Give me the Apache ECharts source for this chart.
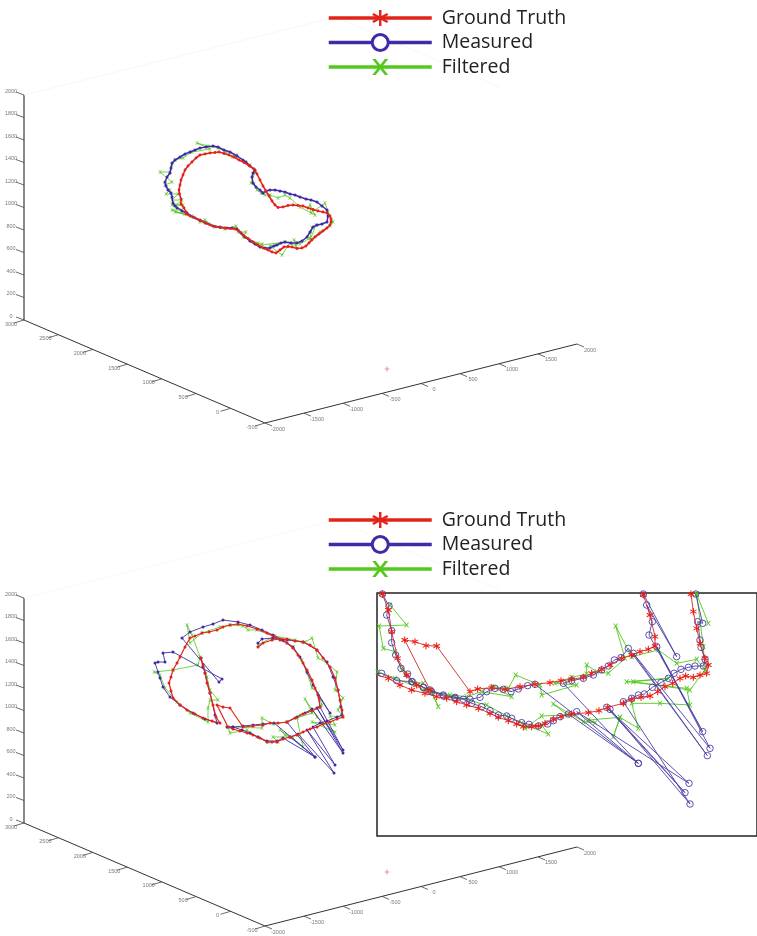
<!DOCTYPE html>
<html>
<head>
<meta charset="utf-8">
<style>html,body{margin:0;padding:0;background:#fff}#c{width:757px;height:936px;filter:blur(0.35px)}</style>
<script src="https://cdn.jsdelivr.net/npm/echarts@6/dist/echarts.min.js"></script>
</head>
<body>
<div id="c"></div>
<script>
// tick values of the three 3-D axes
const heightTicks = [0,200,400,600,800,1000,1200,1400,1600,1800,2000];
const depthTicks = [3000,2500,2000,1500,1000,500,0,-500];
const widthTicks = [-2000,-1500,-1000,-500,0,500,1000,1500,2000];
const legendNames = ['Ground Truth','Measured','Filtered'];
const panelOffsets = [0,503];

// first run, values
const truthTop = [[186,212],[184,208],[181,204],[181,199],[179.5,194],[179,190],[180,185],[181,180],[183,175],[185,170],[188,166],[192,162],[196,158],[200,155],[205,154],[210,153],[215,152.5],[219,152],[224,153.5],[229,155],[234,157],[239,160],[244,162.5],[249,165.5],[254,169],[257,174],[260,180],[263,186],[266,191],[269,196],[272,201],[275,205],[278,207.5],[283,207],[288,205.5],[293,205],[298,205.5],[303,206],[308,208],[313,209.5],[318,211],[323,212],[327,213],[330,216],[331,219],[331,222],[330,225],[327,228],[323,231],[319,234],[315,237],[312,240],[309,243],[306,246],[302,248],[297,248.5],[292,247],[288,246.5],[284,247],[280,250],[276,253],[272,252],[268,250],[263,248],[258,245],[253,242],[248,238.5],[243,235],[239,231],[235,229],[230,228.5],[225,228],[220,227.5],[215,226.5],[210,225],[205,223],[200,220.5],[195,218],[190,216],[186,214]];
const measuredTop = [[263,193],[260,190],[256,187],[253,183],[252,177],[253,173],[255,170],[250,166],[246,162],[243,160],[237,156],[230,152],[224,150],[218,147],[213,146],[206,147],[200,148],[195,150],[190,152],[185,154],[180,157],[175,160],[172,163],[171,168],[170,173],[167,177],[165,182],[166,186],[168,190],[171,193],[172,197],[173,203],[175,206],[177,208],[182,211],[187,213],[193,217],[200,220],[206,223],[213,226],[220,227],[227,228],[232,228],[237,229],[241,233],[245,237],[250,241],[255,244],[260,247],[265,248],[270,248],[274,246],[277,245],[281,243],[285,242],[291,243],[297,243],[302,241],[307,237],[310,232],[313,227],[317,225],[322,224],[327,222],[328,216],[327,210],[322,206],[317,202],[311,200],[306,199],[300,197],[295,195],[290,194],[285,192],[280,191],[275,190],[270,190],[266,191],[263,193]];
const filteredTop = [[261,193],[257,190],[254,184],[251,183],[255,172],[250,165],[245,162],[237,155],[232,157],[226,152],[218,148],[208,146],[197,143],[210,149],[192,152],[183,158],[175,160],[172,165],[170,172],[160,172],[172,182],[165,185],[170,190],[166,194],[178,194],[172,200],[182,200],[176,205],[183,205],[172,205],[182,210],[172,210],[184,214],[175,212],[192,216],[200,222],[205,220],[215,227],[225,229],[236,226],[238,232],[246,232],[243,237],[250,240],[258,243],[262,245],[262,244],[285,242],[270,246],[282,255],[290,243],[296,246],[294,240],[300,244],[310,238],[312,228],[316,225],[310,240],[320,232],[330,226],[333,222],[328,212],[325,203],[311,213],[310,205],[315,215],[300,207],[290,198],[285,195],[278,198],[270,195],[265,195]];
const originPoint = [[387,369]];

// second run, values
const truthBottom = [[258,647],[263,643],[272,640],[280,639],[287,639],[295,641],[303,642],[310,645],[317,650],[323,658],[330,667],[335,678],[338,690],[340,700],[342,710],[343,717],[337,719],[330,722],[323,724],[317,727],[310,729],[303,732],[297,735],[290,737],[283,739],[277,742],[272,742],[267,742],[260,738],[253,735],[247,733],[240,731],[233,729],[228,727],[217,705],[223,707],[230,708],[243,727],[253,726],[263,725],[270,723],[278,723],[287,722],[295,718],[303,714],[312,711],[320,707],[319,698],[315,688],[312,680],[307,670],[303,663],[298,655],[293,648],[287,643],[280,640],[273,636],[267,633],[257,629],[247,626],[238,624],[230,625],[223,627],[217,630],[209,632],[202,633],[195,636],[190,638],[185,647],[180,657],[177,663],[173,670],[171,677],[169,683],[171,691],[173,698],[180,705],[187,710],[195,714],[203,718],[212,721],[220,723],[216,717],[213,705],[210,693],[207,683],[205,673],[203,665],[201,658]];
const measuredBottom = [[258,643],[262,639],[273,638],[287,640],[303,642],[317,650],[327,662],[333,677],[338,690],[341,707],[342,715],[337,717],[327,721],[320,723],[313,727],[335,765],[307,730],[334,773],[298,734],[290,737],[315,757],[283,738],[277,741],[267,741],[258,737],[250,733],[242,730],[233,727],[227,727],[233,727],[243,726],[253,725],[263,724],[274,723],[315,757],[287,722],[297,717],[305,713],[312,709],[343,753],[317,708],[343,750],[320,707],[318,695],[330,713],[313,685],[307,672],[300,657],[293,647],[283,640],[273,635],[262,630],[250,625],[238,622],[223,620],[213,624],[203,627],[190,632],[182,638],[219,682],[222,679],[173,652],[163,653],[165,662],[158,662],[155,663],[158,672],[160,678],[163,687],[170,697],[180,705],[193,713],[205,719],[217,723],[215,715],[210,693],[205,673],[203,667],[201,658]];
const filteredBottom = [[258,645],[275,636],[295,640],[305,642],[312,638],[318,658],[327,663],[337,672],[335,690],[343,698],[338,710],[343,717],[330,716],[335,725],[312,722],[335,732],[317,717],[305,699],[312,713],[297,718],[303,747],[293,738],[285,735],[280,730],[290,737],[273,737],[278,742],[268,742],[257,737],[247,730],[230,733],[228,727],[262,728],[262,718],[273,724],[287,722],[300,715],[322,705],[318,693],[312,688],[307,673],[302,660],[293,647],[287,643],[273,636],[257,630],[248,630],[243,626],[230,625],[220,627],[202,633],[190,643],[187,625],[192,635],[200,657],[198,665],[173,670],[154,672],[160,675],[165,688],[177,702],[190,713],[208,722],[208,708],[210,700],[218,700],[210,690],[207,677],[203,665]];

// enlarged detail, in its own scale
const truthZoomA = [[948,12],[955,65],[965,115],[975,160],[990,205],[1000,225],[995,250],[975,255],[955,262],[932,258],[915,265],[893,280],[870,290],[848,305],[825,318],[798,322],[770,328],[745,340],[698,352],[672,362],[640,368],[590,372],[558,380],[535,388],[510,400],[490,408],[470,410],[445,410],[425,402],[400,392],[370,382],[345,370],[310,355],[275,345],[245,335],[215,325],[185,320],[150,310],[110,300],[75,285],[40,265],[5,255]];
const truthZoomB = [[22,12],[40,60],[50,125],[68,205],[95,255],[125,285],[165,300],[89,150],[120,155],[153,167],[185,168],[285,305],[308,297],[350,293],[390,298],[435,290],[480,283],[525,278],[558,272],[590,268],[625,262],[650,250],[680,238],[705,225],[740,205],[770,195],[795,185],[820,178],[840,168],[840,140],[825,75],[805,15]];
const measuredZoomA = [[962,12],[983,100],[968,95],[975,150],[978,172],[990,208],[985,228],[960,228],[940,232],[918,238],[897,250],[880,265],[858,278],[832,292],[808,312],[790,315],[770,325],[745,335],[945,642],[705,358],[930,608],[695,352],[942,580],[605,365],[790,520],[580,372],[555,380],[535,392],[518,402],[490,408],[462,403],[440,398],[410,385],[395,378],[370,375],[345,362],[320,350],[290,340],[265,328],[240,325],[205,318],[170,305],[145,292],[110,275],[65,272],[20,250],[5,252]];
const measuredZoomB = [[22,12],[42,48],[35,75],[50,122],[50,158],[62,195],[78,235],[98,252],[112,275],[145,292],[165,300],[205,315],[240,322],[285,328],[315,322],[335,305],[360,295],[385,298],[408,305],[430,297],[458,287],[480,283],[790,520],[565,280],[590,272],[625,265],[655,255],[680,240],[700,228],[718,210],[738,203],[760,175],[997,497],[775,190],[1005,475],[845,170],[983,425],[822,135],[832,95],[815,45],[905,200],[805,12]];
const filteredZoomA = [[45,45],[95,105],[12,108],[25,175],[60,185],[80,240],[110,275],[145,280],[165,300],[190,350],[170,305],[225,315],[275,320],[320,305],[410,320],[350,290],[400,295],[422,255],[495,285],[500,315],[605,285],[540,280],[590,262],[635,252],[635,225],[665,245],[700,250],[750,205],[722,108],[770,200],[850,180],[905,220],[965,208],[990,240]];
const filteredZoomB = [[8,245],[60,265],[150,300],[240,320],[335,345],[395,378],[440,400],[520,432],[500,405],[450,415],[500,378],[578,375],[535,342],[625,395],[660,398],[640,390],[735,382],[715,440],[735,382],[790,415],[770,340],[855,340],[945,345],[935,295],[755,275],[880,265],[775,275],[945,300],[990,240],[985,170],[965,12]];
const filteredZoomC = [[1000,100],[965,12]];

const RED='#e2231a', BLUE='#3f2aa8', GREEN='#55c81e';
const STAR='path://M43 0H57V100H43Z M96.5 31L10.5 81L3.5 69L89.5 19Z M10.5 19L96.5 69L89.5 81L3.5 31Z';
const CROSS='path://M8 0L26 0L92 100L74 100Z M74 0L92 0L26 100L8 100Z';
const PLUS='path://M44 0H56V44H100V56H56V100H44V56H0V44H44Z';

// linear projection of each 3-D axis on the page
const heightAt = (v,o)=>[24, 320-v*0.1125+o];
const depthAt = (v,o)=>[24+(3000-v)*0.06886, 320+(3000-v)*0.02943+o];
const widthAt = (v,o)=>[265+(v+2000)*0.078, 423-(v+2000)*0.01975+o];

function base(name,color,data,sym,size,lw,extra){
  return Object.assign({type:'line',name,data,symbol:sym,symbolSize:size,showSymbol:true,showAllSymbol:true,
    smooth:false,clip:true,silent:true,animation:false,
    lineStyle:{color,width:lw},itemStyle:{color}},extra||{});
}
function ring(name,color,data,size,lw,extra){
  const s=base(name,color,data,'circle',size,lw,extra);
  s.itemStyle={color:'rgba(255,255,255,0)',borderColor:color,borderWidth:0.9};
  return s;
}
function path(data,color,width,z){
  return {type:'line',data,symbol:'none',silent:true,animation:false,clip:false,z:z||1,connectNulls:false,
    lineStyle:{color,width},itemStyle:{color}};
}
function labels(pts,dx,dy){
  return {type:'scatter',data:pts,symbolSize:0,silent:true,animation:false,clip:false,z:3,
    label:{show:true,position:'inside',offset:[dx,dy],fontSize:5.5,color:'#555',fontFamily:'Liberation Sans',
      formatter:p=>String(p.data[2])},itemStyle:{color:'transparent'}};
}
const series=[];
// the enlarged detail comes first: its marker shapes are the ones the legend shows
[truthZoomA,truthZoomB].forEach(d=>series.push(base('Ground Truth','#d22a22',d,STAR,7,0.9,{xAxisIndex:1,yAxisIndex:1,z:6,itemStyle:{color:'#ee1c12'}})));
[measuredZoomA,measuredZoomB].forEach(d=>series.push(ring('Measured','#4b3fa6',d,6.5,0.9,{xAxisIndex:1,yAxisIndex:1,z:5})));
[filteredZoomA,filteredZoomB,filteredZoomC].forEach(d=>series.push(base('Filtered',GREEN,d,CROSS,5,0.9,{xAxisIndex:1,yAxisIndex:1,z:4})));
panelOffsets.forEach(o=>{
  const ends=heightAt(2000,o), low=heightAt(0,o);
  series.push(path([ends,low],'#8a8a8a',2));
  series.push(path([low,depthAt(-500,o),widthAt(2000,o)],'#333',1));
  series.push(path([ends,[336,17+o],[500,87+o]],'#f8f8f8',1));
  const t=[];
  heightTicks.forEach(v=>{const a=heightAt(v,o);t.push(a,[a[0]-8,a[1]-3],['-','-']);});
  depthTicks.forEach(v=>{const a=depthAt(v,o);t.push(a,[a[0]-10,a[1]+3],['-','-']);});
  widthTicks.forEach(v=>{const a=widthAt(v,o);t.push(a,[a[0]+7,a[1]+3],['-','-']);});
  series.push(path(t,'#444',0.8));
  series.push(labels(heightTicks.map(v=>{const a=heightAt(v,o);return [a[0],a[1],v];}),-13,-4));
  series.push(labels(depthTicks.map(v=>{const a=depthAt(v,o);return [a[0],a[1],v];}),-13,4));
  series.push(labels(widthTicks.map(v=>{const a=widthAt(v,o);return [a[0],a[1],v];}),13,6));
  series.push({type:'scatter',data:originPoint.map(p=>[p[0],p[1]+o]),symbol:PLUS,symbolSize:5,silent:true,animation:false,
    itemStyle:{color:'#c8203a'}});
});
series.push(base('Filtered',GREEN,filteredTop,CROSS,3.5,0.8,{z:4}));
series.push(base('Measured',BLUE,measuredTop,'circle',3,1.5,{z:5}));
series.push(base('Ground Truth',RED,truthTop,'circle',2.8,1.6,{z:6}));
series.push(base('Filtered',GREEN,filteredBottom,CROSS,3.5,0.8,{z:4}));
series.push(base('Measured',BLUE,measuredBottom,'circle',3,0.9,{z:5}));
series.push(base('Ground Truth',RED,truthBottom,'circle',3,1.2,{z:6}));

const legendColors={'Ground Truth':RED,'Measured':BLUE,'Filtered':GREEN};
function legend(top){
  return {show:true,orient:'vertical',left:327,top,padding:0,itemWidth:103,itemHeight:20,itemGap:4.5,selectedMode:false,
    textStyle:{fontFamily:'Open Sans',fontSize:19.5,color:'#222',padding:[0,0,0,5]},
    data:legendNames.map(n=>{
      const c=legendColors[n];
      return {name:n,
        lineStyle:{color:c,width:3.5,opacity:1},
        itemStyle:n==='Measured'?{color:'#fff',borderColor:c,borderWidth:3}:{color:c,borderWidth:0}};
    })};
}
const chart=echarts.init(document.getElementById('c'),null,{renderer:'canvas'});
chart.setOption({
  animation:false,backgroundColor:'#fff',tooltip:{show:false},
  legend:[legend(8),legend(510)],
  grid:[
    {left:0,top:0,width:757,height:936,show:false},
    {left:377,top:593,width:380,height:243,show:true,backgroundColor:'#fff',borderColor:'#222',borderWidth:1.5}
  ],
  xAxis:[
    {type:'value',gridIndex:0,min:0,max:757,show:false},
    {type:'value',gridIndex:1,min:6,max:1146,show:false}
  ],
  yAxis:[
    {type:'value',gridIndex:0,min:0,max:936,inverse:true,show:false},
    {type:'value',gridIndex:1,min:9,max:738,inverse:true,show:false}
  ],
  series
});
</script>
</body>
</html>
